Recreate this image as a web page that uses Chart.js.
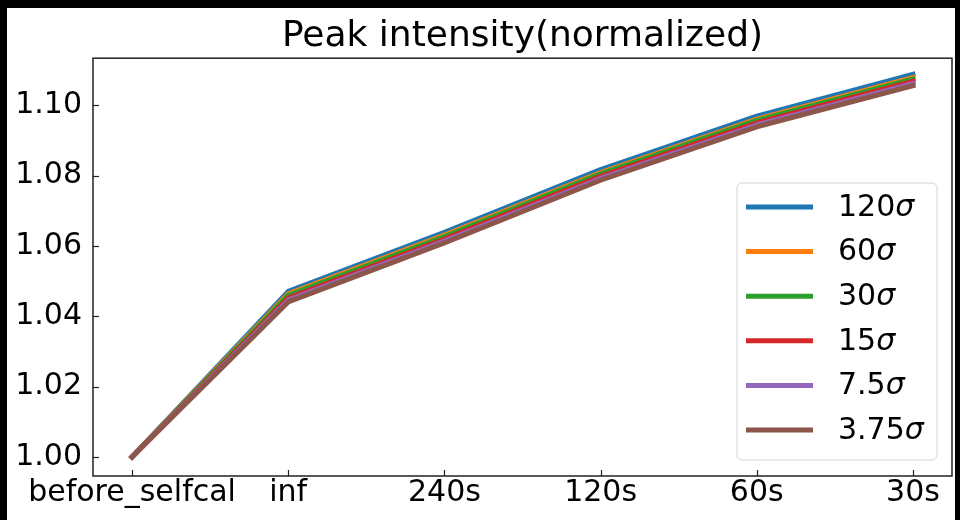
<!DOCTYPE html>
<html>
<head>
<meta charset="utf-8">
<script src="https://cdn.jsdelivr.net/npm/chart.js@4"></script>
<style>
  html, body { margin:0; padding:0; background:#000; width:960px; height:520px; overflow:hidden; }
  #wrap { position:absolute; left:7px; top:8px; width:948px; height:512px; background:#fff; }
</style>
</head>
<body>
<div id="wrap"><canvas id="c"></canvas></div>
<script>
const categories = ['before_selfcal', 'inf', '240s', '120s', '60s', '30s'];
const seriesNames = ['120σ', '60σ', '30σ', '15σ', '7.5σ', '3.75σ'];
const s120  = [1.0000, 1.0471, 1.0639, 1.0817, 1.0969, 1.1088];
const s60   = [1.0000, 1.0464, 1.0631, 1.0809, 1.0961, 1.1079];
const s30   = [1.0000, 1.0460, 1.0627, 1.0805, 1.0957, 1.1075];
const s15   = [1.0000, 1.0452, 1.0620, 1.0798, 1.0950, 1.1068];
const s7_5  = [1.0000, 1.0446, 1.0614, 1.0792, 1.0944, 1.1062];
const s3_75 = [1.0000, 1.0441, 1.0609, 1.0787, 1.0939, 1.1056];
const yTicks = [1.00, 1.02, 1.04, 1.06, 1.08, 1.10];

const allSeries = [s120, s60, s30, s15, s7_5, s3_75];
const colors = ['#1f77b4', '#ff7f0e', '#2ca02c', '#d62728', '#9467bd', '#8c564b'];
const FONT = 'DejaVu Sans';

const datasets = allSeries.map((vals, k) => ({
  label: seriesNames[k],
  data: vals.map((v, i) => ({ x: i, y: v })),
  borderColor: colors[k],
  backgroundColor: colors[k],
  borderWidth: 5,
  pointRadius: 0,
  borderJoinStyle: 'round',
  borderCapStyle: 'square',
  tension: 0,
  order: allSeries.length - 1 - k
}));

const framePlugin = {
  id: 'frame',
  afterDraw(chart) {
    const ctx = chart.ctx;
    const { left, right, top, bottom } = chart.chartArea;
    ctx.save();
    ctx.strokeStyle = '#222';
    ctx.lineWidth = 1.2;
    const xs = chart.scales.x, ys = chart.scales.y;
    xs.ticks.forEach(t => {
      const px = Math.round(xs.getPixelForValue(t.value)) + 0.5;
      ctx.beginPath(); ctx.moveTo(px, bottom); ctx.lineTo(px, bottom - 6); ctx.stroke();
    });
    ys.ticks.forEach(t => {
      const py = Math.round(ys.getPixelForValue(t.value)) + 0.5;
      ctx.beginPath(); ctx.moveTo(left, py); ctx.lineTo(left + 6, py); ctx.stroke();
    });
    ctx.lineWidth = 1.5;
    ctx.strokeStyle = '#222';
    ctx.strokeRect(left, top, right - left, bottom - top);

    // legend
    const bw = 200, bh = 277;
    const bx = right - 15 - bw, by = bottom - 16 - bh;
    const r = 5;
    ctx.beginPath();
    ctx.moveTo(bx + r, by);
    ctx.lineTo(bx + bw - r, by); ctx.arcTo(bx + bw, by, bx + bw, by + r, r);
    ctx.lineTo(bx + bw, by + bh - r); ctx.arcTo(bx + bw, by + bh, bx + bw - r, by + bh, r);
    ctx.lineTo(bx + r, by + bh); ctx.arcTo(bx, by + bh, bx, by + bh - r, r);
    ctx.lineTo(bx, by + r); ctx.arcTo(bx, by, bx + r, by, r);
    ctx.closePath();
    ctx.fillStyle = 'rgba(255,255,255,0.8)';
    ctx.fill();
    ctx.lineWidth = 1;
    ctx.strokeStyle = '#d4d4d4';
    ctx.stroke();
    ctx.textBaseline = 'middle';
    ctx.textAlign = 'left';
    seriesNames.forEach((name, k) => {
      const cy = by + 24 + k * 44.6;
      ctx.strokeStyle = colors[k];
      ctx.lineWidth = 5;
      ctx.lineCap = 'butt';
      ctx.beginPath(); ctx.moveTo(bx + 9, cy); ctx.lineTo(bx + 76, cy); ctx.stroke();
      const num = name.slice(0, -1), sig = name.slice(-1);
      ctx.fillStyle = '#000';
      ctx.font = '30px "' + FONT + '"';
      ctx.fillText(num, bx + 101, cy + 1);
      const w = ctx.measureText(num).width;
      ctx.font = 'italic 30px "' + FONT + '"';
      ctx.fillText(sig, bx + 101 + w, cy + 1);
    });
    ctx.restore();
  }
};

new Chart(document.getElementById('c'), {
  type: 'line',
  data: { datasets },
  options: {
    responsive: true,
    maintainAspectRatio: false,
    animation: false,
    devicePixelRatio: 1,
    layout: { padding: { left: 0, right: 3, top: 0, bottom: 0 } },
    plugins: {
      legend: { display: false },
      tooltip: { enabled: false },
      title: {
        display: true,
        text: 'Peak intensity(normalized)',
        fullSize: false,
        color: '#000',
        font: { family: FONT, size: 36, weight: 'normal', lineHeight: 1.2 },
        padding: { top: 7, bottom: 0 }
      }
    },
    scales: {
      x: {
        type: 'linear',
        min: -0.25,
        max: 5.25,
        grid: { display: false, drawTicks: false },
        border: { display: false },
        afterBuildTicks: s => { s.ticks = categories.map((c, i) => ({ value: i })); },
        afterFit: s => { s.height = 44; },
        ticks: {
          autoSkip: false,
          maxRotation: 0,
          padding: 2,
          color: '#000',
          font: { family: FONT, size: 30, lineHeight: 1.0 },
          callback: v => categories[v]
        }
      },
      y: {
        min: 0.9946,
        max: 1.1134,
        grid: { display: false, drawTicks: false },
        border: { display: false },
        afterBuildTicks: s => { s.ticks = yTicks.map(v => ({ value: v })); },
        afterFit: s => { s.width = 86; },
        ticks: {
          padding: 11,
          color: '#000',
          font: { family: FONT, size: 30 },
          callback: v => Number(v).toFixed(2)
        }
      }
    }
  },
  plugins: [framePlugin]
});
</script>
</body>
</html>
